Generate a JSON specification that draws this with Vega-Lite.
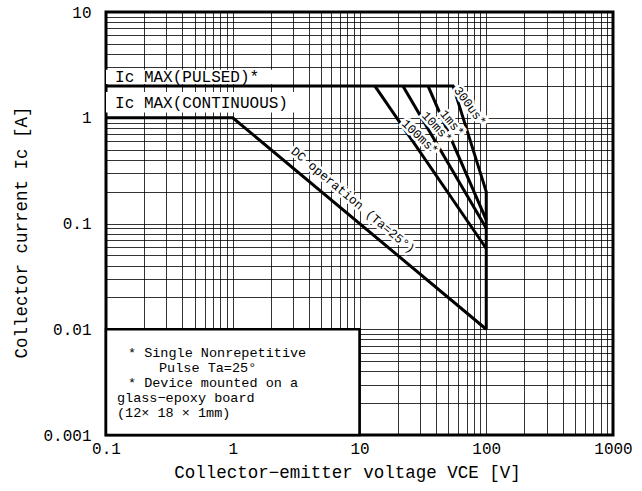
{
  "$schema": "https://vega.github.io/schema/vega-lite/v6.json",
  "width": 507,
  "height": 423,
  "autosize": {"type": "none"},
  "padding": {"left": 106, "top": 12, "right": 29, "bottom": 56},
  "background": "white",
  "config": {
    "view": {"stroke": "black", "strokeWidth": 3},
    "font": "Liberation Mono",
    "axis": {
      "domain": false,
      "ticks": false,
      "grid": true,
      "gridColor": "black",
      "gridWidth": 1,
      "gridOpacity": 0.8,
      "labelFont": "Liberation Mono",
      "labelFontSize": 16,
      "labelColor": "black",
      "titleFont": "Liberation Mono",
      "titleFontSize": 17.5,
      "titleFontWeight": "normal",
      "titleColor": "black"
    }
  },
  "datasets": {
    "lines": [
      {"series": "max", "o": 1, "x": 0.1, "y": 2},
      {"series": "max", "o": 2, "x": 54.7, "y": 2},
      {"series": "max", "o": 3, "x": 100, "y": 0.2},
      {"series": "max", "o": 4, "x": 100, "y": 0.01},
      {"series": "1ms", "o": 1, "x": 34.7, "y": 2},
      {"series": "1ms", "o": 2, "x": 100, "y": 0.108},
      {"series": "10ms", "o": 1, "x": 22, "y": 2},
      {"series": "10ms", "o": 2, "x": 100, "y": 0.09},
      {"series": "100ms", "o": 1, "x": 13.2, "y": 2},
      {"series": "100ms", "o": 2, "x": 100, "y": 0.058},
      {"series": "dc", "o": 1, "x": 0.1, "y": 1},
      {"series": "dc", "o": 2, "x": 1, "y": 1},
      {"series": "dc", "o": 3, "x": 100, "y": 0.01}
    ],
    "boxes": [
      {"x": 0.1, "x2": 2.05, "y": 2.08, "y2": 2.85},
      {"x": 0.1, "x2": 3.5, "y": 1.12, "y2": 1.75}
    ],
    "legendbox": [
      {"x": 0.1, "x2": 10, "y": 0.001, "y2": 0.01}
    ],
    "caps": [
      {"t": "Ic  MAX(PULSED)*", "x": 0.118, "y": 2.43},
      {"t": "Ic  MAX(CONTINUOUS)", "x": 0.118, "y": 1.38}
    ],
    "notes": [
      {"t": "* Single Nonrepetitive", "x": 0.149, "y": 0.005963},
      {"t": "Pulse Ta=25°", "x": 0.262, "y": 0.004301},
      {"t": "* Device mounted on a", "x": 0.149, "y": 0.003102},
      {"t": "glass−epoxy board", "x": 0.122, "y": 0.002238},
      {"t": "(12× 18 × 1mm)", "x": 0.122, "y": 0.001614}
    ],
    "curvelabels": [
      {"t": "DC  operation  (Ta=25°)", "x": 8.9, "y": 0.167},
      {"t": "100ms*", "x": 30, "y": 0.66},
      {"t": "10ms*", "x": 40.8, "y": 0.818},
      {"t": "1ms*", "x": 53.7, "y": 0.89},
      {"t": "300us*", "x": 74.5, "y": 1.29}
    ]
  },
  "layer": [
    {
      "data": {"name": "boxes"},
      "mark": {"type": "rect", "fill": "white", "strokeWidth": 0},
      "encoding": {
        "x": {
          "field": "x", "type": "quantitative",
          "scale": {"type": "log", "domain": [0.1, 1000], "nice": false},
          "axis": {
            "values": [0.1,0.2,0.3,0.4,0.5,0.6,0.7,0.8,0.9,1,2,3,4,5,6,7,8,9,10,20,30,40,50,60,70,80,90,100,200,300,400,500,600,700,800,900,1000],
            "format": "~g",
            "labelExpr": "abs(log(datum.value)/LN10 - round(log(datum.value)/LN10)) < 0.001 ? datum.label : ''",
            "labelPadding": 5,
            "labelFlush": false,
            "labelOverlap": false,
            "title": "Collector−emitter voltage  VCE [V]",
            "titleX": 241,
            "titleY": 37,
            "titleAnchor": "middle",
            "titleAlign": "center",
            "titleBaseline": "middle"
          }
        },
        "x2": {"field": "x2"},
        "y": {
          "field": "y", "type": "quantitative",
          "scale": {"type": "log", "domain": [0.001, 10], "nice": false},
          "axis": {
            "values": [0.001,0.002,0.003,0.004,0.005,0.006,0.007,0.008,0.009,0.01,0.02,0.03,0.04,0.05,0.06,0.07,0.08,0.09,0.1,0.2,0.3,0.4,0.5,0.6,0.7,0.8,0.9,1,2,3,4,5,6,7,8,9,10],
            "format": "~g",
            "labelExpr": "abs(log(datum.value)/LN10 - round(log(datum.value)/LN10)) < 0.001 ? datum.label : ''",
            "labelPadding": 15,
            "labelFlush": false,
            "labelOverlap": false,
            "labelBaseline": "middle",
            "title": "Collector current Ic [A]",
            "titleX": -85,
            "titleY": 220,
            "titleAngle": -90,
            "titleAlign": "center",
            "titleBaseline": "middle"
          }
        },
        "y2": {"field": "y2"}
      }
    },
    {
      "data": {"name": "legendbox"},
      "mark": {"type": "rect", "fill": "white", "stroke": "black", "strokeWidth": 2.5},
      "encoding": {
        "x": {"field": "x", "type": "quantitative"},
        "x2": {"field": "x2"},
        "y": {"field": "y", "type": "quantitative"},
        "y2": {"field": "y2"}
      }
    },
    {
      "data": {"name": "lines"},
      "mark": {"type": "line", "color": "black", "strokeWidth": 3, "strokeCap": "butt", "strokeJoin": "miter"},
      "encoding": {
        "x": {"field": "x", "type": "quantitative"},
        "y": {"field": "y", "type": "quantitative"},
        "detail": {"field": "series"},
        "order": {"field": "o", "type": "quantitative"}
      }
    },
    {
      "data": {"name": "caps"},
      "mark": {"type": "text", "align": "left", "baseline": "middle", "fontSize": 16, "color": "black", "font": "Liberation Mono"},
      "encoding": {
        "x": {"field": "x", "type": "quantitative"},
        "y": {"field": "y", "type": "quantitative"},
        "text": {"field": "t"}
      }
    },
    {
      "data": {"name": "notes"},
      "mark": {"type": "text", "align": "left", "baseline": "middle", "fontSize": 13.5, "color": "black", "font": "Liberation Mono"},
      "encoding": {
        "x": {"field": "x", "type": "quantitative"},
        "y": {"field": "y", "type": "quantitative"},
        "text": {"field": "t"}
      }
    },
    {
      "data": {"name": "curvelabels"},
      "mark": {"type": "text", "align": "center", "baseline": "middle", "fontSize": 12.5, "fill": "white", "stroke": "white", "strokeWidth": 5, "font": "Liberation Mono"},
      "encoding": {
        "x": {"field": "x", "type": "quantitative"},
        "y": {"field": "y", "type": "quantitative"},
        "text": {"field": "t"},
        "angle": {"field": "t", "type": "nominal", "legend": null,
          "scale": {"domain": ["DC  operation  (Ta=25°)", "100ms*", "10ms*", "1ms*", "300us*"], "range": [40, 54, 58, 60, 60]}}
      }
    },
    {
      "data": {"name": "curvelabels"},
      "mark": {"type": "text", "align": "center", "baseline": "middle", "fontSize": 12.5, "color": "black", "font": "Liberation Mono"},
      "encoding": {
        "x": {"field": "x", "type": "quantitative"},
        "y": {"field": "y", "type": "quantitative"},
        "text": {"field": "t"},
        "angle": {"field": "t", "type": "nominal", "legend": null,
          "scale": {"domain": ["DC  operation  (Ta=25°)", "100ms*", "10ms*", "1ms*", "300us*"], "range": [40, 54, 58, 60, 60]}}
      }
    }
  ]
}
